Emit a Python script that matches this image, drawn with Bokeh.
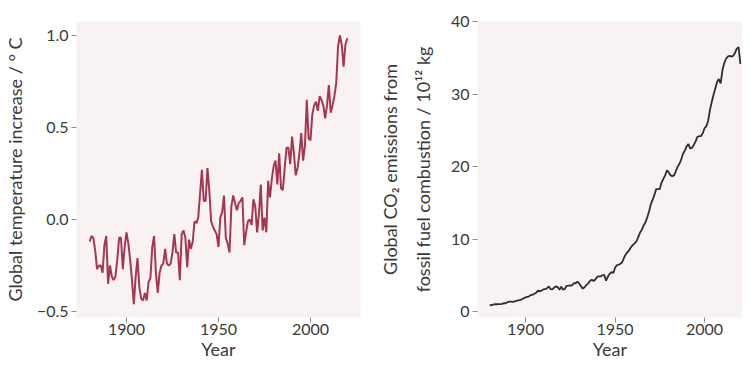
from bokeh.plotting import figure
from bokeh.layouts import row
from bokeh.models import Range1d, FixedTicker
from bokeh.embed import file_html
from bokeh.resources import INLINE

# ---------------- data ----------------
years = list(range(1880, 2021))

temp_anomaly = [
    -0.12, -0.09, -0.10, -0.17, -0.27, -0.25, -0.25, -0.29, -0.14, -0.09,   # 1880s
    -0.35, -0.25, -0.31, -0.33, -0.31, -0.22, -0.10, -0.10, -0.27, -0.15,   # 1890s
    -0.07, -0.13, -0.22, -0.33, -0.46, -0.31, -0.21, -0.37, -0.43, -0.44,   # 1900s
    -0.40, -0.44, -0.34, -0.32, -0.15, -0.09, -0.29, -0.40, -0.29, -0.25,   # 1910s
    -0.24, -0.16, -0.24, -0.25, -0.24, -0.18, -0.08, -0.18, -0.18, -0.33,   # 1920s
    -0.08, -0.06, -0.10, -0.26, -0.11, -0.16, -0.12, -0.01, -0.02, 0.01,    # 1930s
    0.14, 0.27, 0.10, 0.10, 0.28, 0.16, -0.01, -0.04, -0.06, -0.08,         # 1940s
    -0.15, 0.01, 0.04, 0.13, -0.10, -0.13, -0.18, 0.07, 0.13, 0.09,         # 1950s
    0.05, 0.09, 0.10, 0.12, -0.14, -0.07, -0.01, 0.00, -0.03, 0.11,         # 1960s
    0.07, -0.07, 0.03, 0.19, -0.06, 0.01, -0.07, 0.21, 0.12, 0.22,          # 1970s
    0.29, 0.32, 0.19, 0.36, 0.17, 0.16, 0.28, 0.39, 0.39, 0.30,             # 1980s
    0.45, 0.36, 0.24, 0.28, 0.36, 0.47, 0.32, 0.40, 0.65, 0.44,             # 1990s
    0.43, 0.57, 0.62, 0.64, 0.59, 0.67, 0.65, 0.62, 0.55, 0.62,             # 2000s
    0.73, 0.58, 0.62, 0.67, 0.74, 0.94, 1.00, 0.95, 0.83, 0.95,             # 2010s
    0.985,                                                                  # 2020
]

co2_emissions = [
    0.86, 0.89, 0.95, 1.01, 1.00, 1.01, 1.01, 1.05, 1.15, 1.14,   # 1880s
    1.30, 1.36, 1.36, 1.33, 1.39, 1.48, 1.53, 1.60, 1.68, 1.83,   # 1890s
    1.95, 2.03, 2.08, 2.29, 2.30, 2.46, 2.59, 2.89, 2.78, 2.90,   # 1900s
    3.04, 3.08, 3.22, 3.45, 3.10, 3.05, 3.30, 3.45, 3.40, 3.00,   # 1910s
    3.43, 3.00, 3.15, 3.55, 3.56, 3.62, 3.58, 3.90, 3.90, 4.12,   # 1920s
    3.87, 3.50, 3.15, 3.35, 3.65, 3.85, 4.20, 4.40, 4.20, 4.42,   # 1930s
    4.77, 4.85, 4.85, 5.00, 5.05, 4.25, 4.80, 5.20, 5.45, 5.30,   # 1940s
    6.00, 6.40, 6.45, 6.60, 6.80, 7.40, 7.90, 8.20, 8.50, 8.90,   # 1950s
    9.20, 9.40, 9.70, 10.3, 10.9, 11.3, 11.9, 12.3, 13.0, 13.8,   # 1960s
    14.8, 15.4, 16.1, 16.9, 16.9, 16.9, 17.8, 18.3, 18.8, 19.5,   # 1970s
    19.2, 18.8, 18.7, 18.8, 19.4, 20.0, 20.4, 21.0, 21.8, 22.2,   # 1980s
    22.8, 23.1, 22.5, 22.6, 23.0, 23.5, 24.1, 24.2, 24.2, 24.6,   # 1990s
    25.3, 25.6, 26.3, 27.8, 28.9, 29.9, 30.8, 31.7, 32.1, 31.5,   # 2000s
    33.3, 34.3, 34.9, 35.2, 35.3, 35.2, 35.3, 35.7, 36.3, 36.5,   # 2010s
    34.2,                                                         # 2020
]

x_ticks = [1900, 1950, 2000]
temp_ticks = [-0.5, 0.0, 0.5, 1.0]
temp_tick_labels = ["\u22120.5", "0.0", "0.5", "1.0"]
co2_ticks = [0, 10, 20, 30, 40]
co2_tick_labels = ["0", "10", "20", "30", "40"]

x_label = "Year"
temp_label = "Global temperature increase / \u00b0 C"
co2_label = "Global CO\u2082 emissions from\nfossil fuel combustion / 10\u00b9\u00b2 kg"

# ---------------- style ----------------
FONT = "Lato"
TEXT_COLOR = "#3a3a3a"
TICK_COLOR = "#8c8c8c"
BG = "#f9f2f2"
TEMP_COLOR = "#a5374f"
CO2_COLOR = "#2e2e2e"


def style_axes(p):
    p.background_fill_color = BG
    p.border_fill_color = "white"
    p.outline_line_color = None
    p.xgrid.visible = False
    p.ygrid.visible = False
    for ax in (p.xaxis[0], p.yaxis[0]):
        ax.axis_line_color = None
        ax.major_tick_line_color = TICK_COLOR
        ax.major_tick_line_width = 1
        ax.major_tick_out = 5
        ax.major_tick_in = 0
        ax.minor_tick_line_color = None
        ax.major_label_text_font = FONT
        ax.major_label_text_font_size = "16px"
        ax.major_label_text_color = TEXT_COLOR
        ax.axis_label_text_font = FONT
        ax.axis_label_text_font_size = "18px"
        ax.axis_label_text_font_style = "normal"
        ax.axis_label_text_color = TEXT_COLOR
    p.xaxis[0].ticker = FixedTicker(ticks=x_ticks)
    p.xaxis[0].major_label_standoff = 1
    p.xaxis[0].axis_label = x_label
    p.xaxis[0].axis_label_standoff = 0


# ---------------- left panel ----------------
p1 = figure(
    width=375, height=362,
    min_border_left=76, min_border_right=15, min_border_top=21, min_border_bottom=45,
    x_range=Range1d(1872.83, 2027.2),
    y_range=Range1d(-0.533, 1.076),
    toolbar_location=None, output_backend="svg",
)
style_axes(p1)
p1.yaxis[0].ticker = FixedTicker(ticks=temp_ticks)
p1.yaxis[0].major_label_overrides = dict(zip(temp_ticks, temp_tick_labels))
p1.yaxis[0].axis_label = temp_label
p1.yaxis[0].major_label_standoff = 3
p1.yaxis[0].axis_label_standoff = 8
p1.line(years, temp_anomaly, line_color=TEMP_COLOR, line_width=2)

# ---------------- right panel ----------------
p2 = figure(
    width=367, height=362,
    min_border_left=100, min_border_right=0, min_border_top=21, min_border_bottom=45,
    x_range=Range1d(1873.2, 2021.2),
    y_range=Range1d(-0.83, 40.04),
    toolbar_location=None, output_backend="svg",
)
style_axes(p2)
p2.yaxis[0].ticker = FixedTicker(ticks=co2_ticks)
p2.yaxis[0].major_label_overrides = dict(zip(co2_ticks, co2_tick_labels))
p2.yaxis[0].axis_label = co2_label
p2.yaxis[0].axis_label_text_line_height = 1.5
p2.yaxis[0].major_label_standoff = 3
p2.yaxis[0].axis_label_standoff = 14
p2.line(years, co2_emissions, line_color=CO2_COLOR, line_width=1.8)

layout = row(p1, p2, spacing=0)

with open("out.html", "w") as f:
    f.write(file_html(layout, INLINE))
